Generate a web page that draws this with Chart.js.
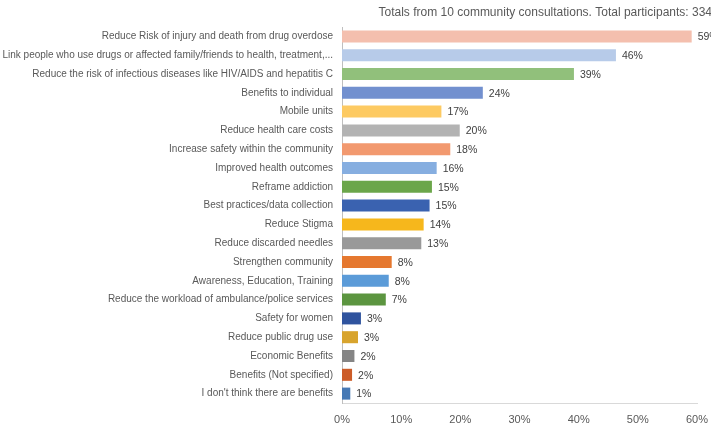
<!DOCTYPE html>
<html>
<head>
<meta charset="utf-8">
<script src="https://cdn.jsdelivr.net/npm/chart.js@4"></script>
<style>
  body { margin: 0; background: #fff; }
  #wrap { width: 711px; height: 427px; }
</style>
</head>
<body>
<div id="wrap"><canvas id="myChart"></canvas></div>
<script>
const categorias = [
  'Reduce Risk of injury and death from drug overdose',
  'Link people who use drugs or affected family/friends to health, treatment,...',
  'Reduce the risk of infectious diseases like HIV/AIDS and hepatitis C',
  'Benefits to individual',
  'Mobile units',
  'Reduce health care costs',
  'Increase safety within the community',
  'Improved health outcomes',
  'Reframe addiction',
  'Best practices/data collection',
  'Reduce Stigma',
  'Reduce discarded needles',
  'Strengthen community',
  'Awareness, Education, Training',
  'Reduce the workload of ambulance/police services',
  'Safety for women',
  'Reduce public drug use',
  'Economic Benefits',
  'Benefits (Not specified)',
  "I don't think there are benefits"
];
const valores = [59.1, 46.3, 39.2, 23.8, 16.8, 19.9, 18.3, 16.0, 15.2, 14.8, 13.8, 13.4, 8.4, 7.9, 7.4, 3.2, 2.7, 2.1, 1.7, 1.4];
const rotulos = ['59%', '46%', '39%', '24%', '17%', '20%', '18%', '16%', '15%', '15%', '14%', '13%', '8%', '8%', '7%', '3%', '3%', '2%', '2%', '1%'];
const cores = [
  '#f4bfae', '#b7cbe9', '#91c07b', '#7290cf', '#fdca62', '#b3b3b3', '#f2996f',
  '#86aee0', '#6ba64a', '#3a62b0', '#f6b71c', '#999999', '#e5782f', '#5b9bd8',
  '#5c9540', '#2f539e', '#d8a42d', '#858585', '#cc5c28', '#4679b5'
];
const ticksX = [0, 10, 20, 30, 40, 50, 60];
const titulo = 'Totals from 10 community consultations. Total participants: 334';

const fonte = "'Liberation Sans', Arial, sans-serif";

// escreve o valor no fim de cada barra + titulo no canto
const rotuloBarras = {
  id: 'rotuloBarras',
  afterDatasetsDraw(chart) {
    const ctx = chart.ctx;
    const meta = chart.getDatasetMeta(0);
    ctx.save();
    ctx.font = '10.5px ' + fonte;
    ctx.fillStyle = '#404040';
    ctx.textAlign = 'left';
    ctx.textBaseline = 'middle';
    meta.data.forEach(function(bar, i) {
      ctx.fillText(rotulos[i], bar.x + 6, bar.y + 1);
    });
    ctx.font = '12px ' + fonte;
    ctx.fillStyle = '#595959';
    ctx.textAlign = 'right';
    ctx.fillText(titulo, 712, 13);
    ctx.restore();
  }
};

const ctx = document.getElementById('myChart');
new Chart(ctx, {
  type: 'bar',
  data: {
    labels: categorias,
    datasets: [{
      data: valores,
      backgroundColor: cores,
      borderWidth: 0,
      barPercentage: 0.64,
      categoryPercentage: 1
    }]
  },
  options: {
    indexAxis: 'y',
    responsive: true,
    maintainAspectRatio: false,
    animation: false,
    layout: { padding: { left: 0, right: 14, top: 27, bottom: 0 } },
    plugins: {
      legend: { display: false },
      tooltip: { enabled: false },
      title: { display: false }
    },
    scales: {
      x: {
        min: 0,
        max: 60,
        afterBuildTicks: function(scale) {
          scale.ticks = ticksX.map(function(v) { return { value: v }; });
        },
        afterFit: function(scale) {
          scale.height = 24;
          scale.paddingRight = 0;
          scale.paddingLeft = 0;
        },
        grid: { display: false, drawTicks: false },
        border: { display: true, color: '#d9d9d9' },
        ticks: {
          color: '#595959',
          padding: 10,
          font: { family: fonte, size: 11 },
          callback: function(v) { return v + '%'; }
        }
      },
      y: {
        afterFit: function(scale) { scale.width = 342; },
        grid: { display: false, drawTicks: false },
        border: { display: true, color: '#bfbfbf' },
        ticks: {
          color: '#595959',
          padding: 9,
          autoSkip: false,
          font: { family: fonte, size: 10 }
        }
      }
    }
  },
  plugins: [rotuloBarras]
});
</script>
</body>
</html>
